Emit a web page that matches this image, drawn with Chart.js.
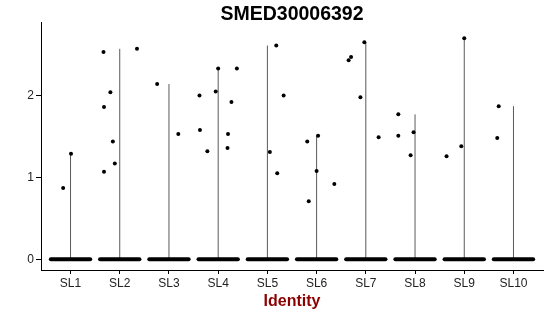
<!DOCTYPE html>
<html>
<head>
<meta charset="utf-8">
<script src="https://cdn.jsdelivr.net/npm/chart.js@4.4.0/dist/chart.umd.min.js"></script>
<style>
  html, body { margin: 0; padding: 0; background: #fff; }
</style>
</head>
<body>
<canvas id="myChart" width="550" height="316"></canvas>
<script>
// clusters on the x axis
const categories = ["SL1", "SL2", "SL3", "SL4", "SL5", "SL6", "SL7", "SL8", "SL9", "SL10"]
const yTicks = [0, 1, 2]

// expressing cells per cluster (everything else sits at 0)
const values = [
  [0.87, 1.29],
  [2.57, 2.53, 2.04, 1.86, 1.44, 1.17, 1.07],
  [2.14, 1.53],
  [2.33, 2.33, 2.05, 2.0, 1.92, 1.58, 1.53, 1.36, 1.32],
  [2.61, 2.0, 1.31, 1.05],
  [1.51, 1.44, 1.08, 0.92, 0.71],
  [2.65, 2.47, 2.43, 1.98, 1.49],
  [1.77, 1.55, 1.51, 1.27],
  [2.70, 1.38, 1.26],
  [1.87, 1.48]
]
// horizontal jitter of those cells
const jitter = [
  [-0.15, 0.01],
  [0.35, -0.33, -0.19, -0.32, -0.14, -0.10, -0.32],
  [-0.24, 0.19],
  [0.0, 0.38, -0.05, -0.38, 0.27, -0.37, 0.2, 0.19, -0.22],
  [0.18, 0.33, 0.05, 0.2],
  [0.03, -0.19, 0.0, 0.36, -0.16],
  [-0.03, -0.3, -0.35, -0.11, 0.26],
  [-0.34, -0.03, -0.34, -0.09],
  [0.0, -0.06, -0.36],
  [-0.3, -0.33]
]
const jitterWidth = 0.4

const fontFamily = "'Liberation Sans', Arial, sans-serif"

var datasets = []

// dense band of zero cells
categories.forEach((c, i) => {
  datasets.push({
    data: [{ x: i + 1 - jitterWidth, y: 0 }, { x: i + 1 + jitterWidth, y: 0 }],
    showLine: true,
    borderColor: '#000',
    borderWidth: 4,
    borderCapStyle: 'round',
    pointRadius: 0,
    order: 1
  })
})

// violins (collapsed to a thin line from 0 to the max)
categories.forEach((c, i) => {
  datasets.push({
    data: [{ x: i + 1, y: 0 }, { x: i + 1, y: Math.max(...values[i]) }],
    showLine: true,
    borderColor: 'rgba(0,0,0,0.65)',
    borderWidth: 1,
    pointRadius: 0,
    order: 2
  })
})

// jittered points
let pts = []
for (let i = 0; i < categories.length; i++) {
  for (let k = 0; k < values[i].length; k++) {
    pts.push({ x: i + 1 + jitter[i][k], y: values[i][k] })
  }
}
datasets.push({
  data: pts,
  backgroundColor: '#000',
  borderColor: '#000',
  borderWidth: 0,
  pointRadius: 2,
  order: 0
})

const ctx = document.getElementById('myChart').getContext('2d');
const myChart = new Chart(ctx, {
  type: 'scatter',
  data: { datasets: datasets },
  options: {
    responsive: false,
    animation: false,
    layout: { padding: { left: 0, right: 7, top: 0, bottom: 0 } },
    plugins: {
      legend: { display: false },
      tooltip: { enabled: false },
      title: {
        display: true,
        text: 'SMED30006392',
        color: '#000',
        fullSize: false,
        font: { family: fontFamily, size: 19.5, weight: 'bold', lineHeight: 0.8 },
        padding: { top: 7, bottom: 0 }
      }
    },
    scales: {
      x: {
        type: 'linear',
        min: 0.4,
        max: 10.6,
        afterBuildTicks: s => { s.ticks = categories.map((c, i) => ({ value: i + 1 })) },
        afterFit: s => { s.height = 46 },
        ticks: {
          callback: v => categories[Math.round(v) - 1],
          font: { family: fontFamily, size: 12 },
          color: '#222',
          padding: 2,
          maxRotation: 0,
          autoSkip: false
        },
        grid: { drawOnChartArea: false, drawTicks: true, tickLength: 4, color: '#000', lineWidth: 1 },
        border: { display: true, color: '#000', width: 1 },
        title: {
          display: true,
          text: 'Identity',
          color: '#8B0000',
          font: { family: fontFamily, size: 16, weight: 'bold' },
          padding: { top: 2, bottom: 5 }
        }
      },
      y: {
        min: -0.13,
        max: 2.89,
        afterBuildTicks: s => { s.ticks = yTicks.map(v => ({ value: v })) },
        afterFit: s => { s.width = 41 },
        ticks: {
          font: { family: fontFamily, size: 12 },
          color: '#222',
          padding: 2
        },
        grid: { drawOnChartArea: false, drawTicks: true, tickLength: 5, color: '#000', lineWidth: 1 },
        border: { display: true, color: '#000', width: 1 }
      }
    }
  }
});
</script>
</body>
</html>
